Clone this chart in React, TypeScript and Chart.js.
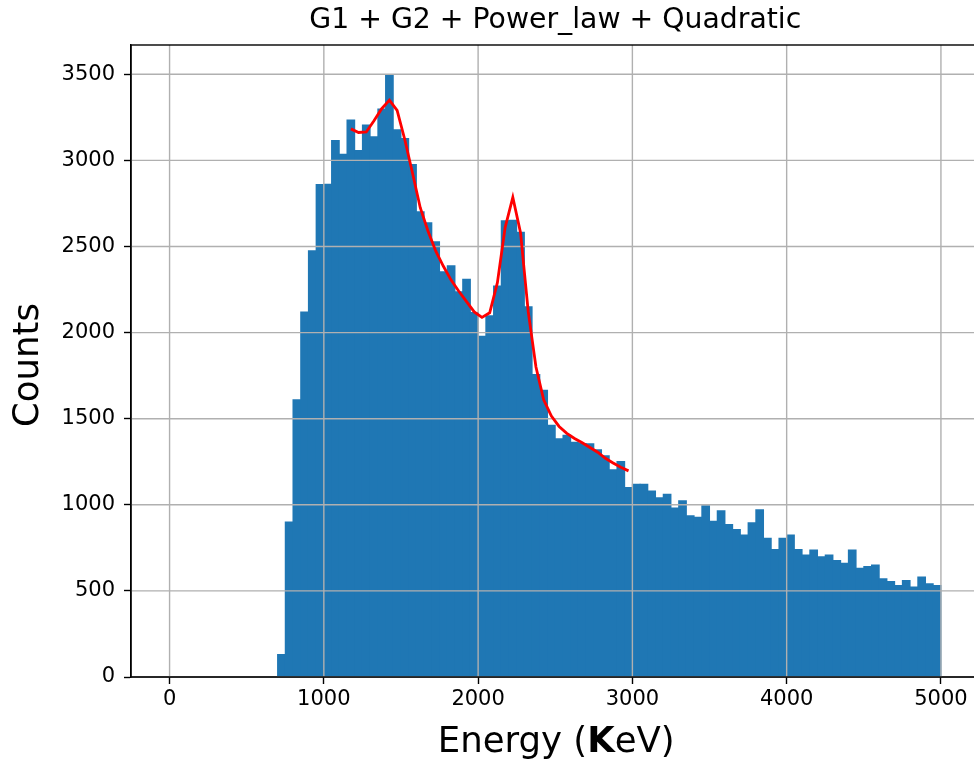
import React, { useEffect, useRef } from "react";
import { Chart, registerables } from "chart.js";

Chart.register(...registerables);

const TITLE = "G1 + G2 + Power_law + Quadratic";
const Y_LABEL = "Counts";
const X_LABEL_PARTS = ["Energy (", "K", "eV)"];

// Histogram binning (keV)
const BIN_START = 700;
const BIN_WIDTH = 50;
const counts = [
  130, 900, 1610, 2120, 2475, 2860, 2862, 3115, 3035, 3235,
  3058, 3205, 3137, 3298, 3495, 3178, 3127, 2976, 2702, 2638,
  2527, 2353, 2388, 2237, 2310, 2116, 1978, 2098, 2270, 2650,
  2652, 2583, 2150, 1756, 1665, 1462, 1383, 1404, 1363, 1356,
  1355, 1319, 1285, 1204, 1252, 1100, 1119, 1119, 1080, 1041,
  1061, 981, 1023, 937, 927, 994, 905, 966, 886, 857,
  825, 895, 971, 806, 740, 806, 825, 740, 709, 738,
  698, 708, 676, 660, 737, 632, 641, 651, 571, 555,
  531, 561, 523, 580, 542, 531,
];

// Fitted model (G1 + G2 + Power_law + Quadratic)
const fitEnergy = [
  1175, 1225, 1275, 1325, 1375, 1425, 1475, 1525, 1575, 1625,
  1675, 1725, 1775, 1825, 1875, 1925, 1975, 2025, 2075, 2125,
  2175, 2225, 2275, 2325, 2375, 2425, 2475, 2525, 2575, 2625,
  2675, 2725, 2775, 2825, 2875, 2925, 2975,
];
const fitCounts = [
  3183, 3162, 3165, 3230, 3300, 3350, 3290, 3120, 2925, 2725,
  2590, 2474, 2385, 2305, 2240, 2180, 2120, 2088, 2115, 2290,
  2610, 2785, 2580, 2120, 1800, 1610, 1515, 1455, 1415, 1385,
  1360, 1333, 1305, 1270, 1243, 1218, 1197,
];

const xTicks = [0, 1000, 2000, 3000, 4000, 5000];
const yTicks = [0, 500, 1000, 1500, 2000, 2500, 3000, 3500];
const X_MIN = -250;
const X_MAX = 5250;
const Y_MIN = 0;
const Y_MAX = 3670;

const FONT = "'DejaVu Sans', sans-serif";
const CANVAS_W = 990;
const CANVAS_H = 763;

export default function App() {
  const ref = useRef<HTMLCanvasElement | null>(null);

  useEffect(() => {
    const canvas = ref.current;
    if (!canvas) return;

    const barData = counts.map((c, i) => ({
      x: BIN_START + BIN_WIDTH * i + BIN_WIDTH / 2,
      y: c,
    }));
    const fitData = fitEnergy.map((e, i) => ({ x: e, y: fitCounts[i] }));

    const gridPlugin = {
      id: "mplGrid",
      afterDatasetDraw(chart: any, args: any) {
        if (args.meta.type !== "bar") return;
        const { ctx, chartArea: a, scales } = chart;
        ctx.save();
        ctx.beginPath();
        ctx.rect(a.left, a.top, a.right - a.left, a.bottom - a.top);
        ctx.clip();
        ctx.strokeStyle = "#b0b0b0";
        ctx.lineWidth = 1.4;
        ctx.beginPath();
        xTicks.forEach((v) => {
          const px = scales.x.getPixelForValue(v);
          ctx.moveTo(px, a.top);
          ctx.lineTo(px, a.bottom);
        });
        yTicks.forEach((v) => {
          const py = scales.y.getPixelForValue(v);
          ctx.moveTo(a.left, py);
          ctx.lineTo(a.right, py);
        });
        ctx.stroke();
        ctx.restore();
      },
    };

    const decorPlugin = {
      id: "mplDecor",
      afterDraw(chart: any) {
        const { ctx, chartArea: a } = chart;
        ctx.save();
        // spines
        ctx.strokeStyle = "#000";
        ctx.lineWidth = 1.4;
        ctx.strokeRect(a.left, a.top, a.right - a.left, a.bottom - a.top);

        const cx = (a.left + a.right) / 2;
        const cy = (a.top + a.bottom) / 2;
        ctx.fillStyle = "#000";

        // title
        ctx.font = `28.3px ${FONT}`;
        ctx.textAlign = "center";
        ctx.textBaseline = "alphabetic";
        ctx.fillText(TITLE, cx, 28);

        // x label with bold K
        const normal = `35.5px ${FONT}`;
        const bold = `bold 35.5px ${FONT}`;
        ctx.textAlign = "left";
        ctx.font = normal;
        const w0 = ctx.measureText(X_LABEL_PARTS[0]).width;
        const w2 = ctx.measureText(X_LABEL_PARTS[2]).width;
        ctx.font = bold;
        const w1 = ctx.measureText(X_LABEL_PARTS[1]).width;
        let sx = cx - (w0 + w1 + w2) / 2 + 1;
        const by = 752;
        ctx.font = normal;
        ctx.fillText(X_LABEL_PARTS[0], sx, by);
        sx += w0;
        ctx.font = bold;
        ctx.fillText(X_LABEL_PARTS[1], sx, by);
        sx += w1;
        ctx.font = normal;
        ctx.fillText(X_LABEL_PARTS[2], sx, by);

        // y label
        ctx.translate(38, cy + 4);
        ctx.rotate(-Math.PI / 2);
        ctx.font = normal;
        ctx.textAlign = "center";
        ctx.fillText(Y_LABEL, 0, 0);
        ctx.restore();
      },
    };

    const chart = new Chart(canvas, {
      type: "bar",
      data: {
        datasets: [
          {
            type: "bar",
            data: barData as any,
            backgroundColor: "#1f77b4",
            borderWidth: 0,
            barPercentage: 1,
            categoryPercentage: 1,
            inflateAmount: 0.5,
            order: 2,
          } as any,
          {
            type: "line",
            data: fitData as any,
            borderColor: "#ff0000",
            borderWidth: 2.8,
            pointRadius: 0,
            tension: 0,
            fill: false,
            order: 1,
          } as any,
        ],
      },
      options: {
        responsive: false,
        animation: false,
        devicePixelRatio: 1,
        layout: { padding: { top: 45, right: CANVAS_W - 979.5, left: 0, bottom: 0 } },
        plugins: {
          legend: { display: false },
          tooltip: { enabled: false },
          title: { display: false },
        },
        scales: {
          x: {
            type: "linear",
            min: X_MIN,
            max: X_MAX,
            offset: false,
            afterBuildTicks: (s: any) => {
              s.ticks = xTicks.map((v) => ({ value: v }));
            },
            afterFit: (s: any) => {
              s.height = CANVAS_H - 677;
            },
            ticks: {
              autoSkip: false,
              maxRotation: 0,
              color: "#000",
              padding: 3,
              font: { family: FONT, size: 21 },
              callback: (v: any) => String(v),
            },
            grid: {
              offset: false,
              drawOnChartArea: false,
              drawTicks: true,
              tickLength: 7,
              tickColor: "#000",
              tickWidth: 1.4,
            },
            border: { display: true, color: "#000", width: 1.4 },
          },
          y: {
            type: "linear",
            min: Y_MIN,
            max: Y_MAX,
            afterBuildTicks: (s: any) => {
              s.ticks = yTicks.map((v) => ({ value: v }));
            },
            afterFit: (s: any) => {
              s.width = 131;
            },
            ticks: {
              autoSkip: false,
              color: "#000",
              padding: 9,
              font: { family: FONT, size: 21 },
              callback: (v: any) => String(v),
            },
            grid: {
              offset: false,
              drawOnChartArea: false,
              drawTicks: true,
              tickLength: 7,
              tickColor: "#000",
              tickWidth: 1.4,
            },
            border: { display: true, color: "#000", width: 1.4 },
          },
        },
      } as any,
      plugins: [gridPlugin, decorPlugin],
    });

    return () => chart.destroy();
  }, []);

  return (
    <div style={{ position: "fixed", left: 0, top: 0, width: CANVAS_W, height: CANVAS_H, background: "#fff" }}>
      <canvas ref={ref} width={CANVAS_W} height={CANVAS_H} style={{ display: "block" }} />
    </div>
  );
}
